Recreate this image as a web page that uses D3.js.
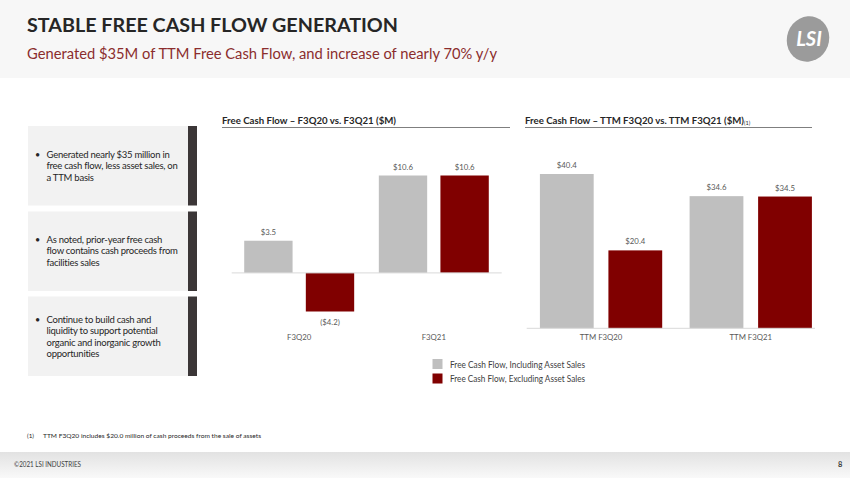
<!DOCTYPE html>
<html><head><meta charset="utf-8">
<script src="https://cdn.jsdelivr.net/npm/d3@7"></script>
<style>
html,body{margin:0;padding:0;background:#fff;}
svg{display:block;font-family:Lato,"Open Sans",sans-serif;}
</style></head>
<body>
<svg id="c" width="850" height="478"></svg>
<script>
// ---- data ----
const categoriesQ = ["F3Q20", "F3Q21"];
const includingQ = [3.5, 10.6];
const excludingQ = [-4.2, 10.6];
const categoriesTTM = ["TTM F3Q20", "TTM F3Q21"];
const includingTTM = [40.4, 34.6];
const excludingTTM = [20.4, 34.5];
const seriesNames = ["Free Cash Flow, Including Asset Sales", "Free Cash Flow, Excluding Asset Sales"];
const seriesColors = ["#bfbfbf", "#800000"];
const bullets = [
  ["Generated nearly $35 million in", "free cash flow, less asset sales, on", "a TTM basis"],
  ["As noted, prior-year free cash", "flow contains cash proceeds from", "facilities sales"],
  ["Continue to build cash and", "liquidity to support potential", "organic and inorganic growth", "opportunities"]
];

const svg = d3.select("#c");
const defs = svg.append("defs");
const grad = defs.append("linearGradient").attr("id","fg").attr("x1",0).attr("y1",0).attr("x2",0).attr("y2",1);
grad.append("stop").attr("offset","0%").attr("stop-color","#e2e2e2");
grad.append("stop").attr("offset","100%").attr("stop-color","#f9f9f9");

// header
svg.append("rect").attr("x",0).attr("y",0).attr("width",850).attr("height",78).attr("fill","#f7f7f7");
svg.append("text").attr("x",27).attr("y",32).attr("font-size",19).attr("font-weight","bold")
  .attr("fill","#262626").attr("textLength",371).attr("lengthAdjust","spacingAndGlyphs")
  .text("STABLE FREE CASH FLOW GENERATION");
svg.append("text").attr("x",27).attr("y",59).attr("font-size",14.5)
  .attr("fill","#8b2d2d").attr("textLength",470).attr("lengthAdjust","spacingAndGlyphs")
  .text("Generated $35M of TTM Free Cash Flow, and increase of nearly 70% y/y");
// logo
const logo = svg.append("g").attr("transform","translate(808,39)");
logo.append("ellipse").attr("rx",21).attr("ry",23).attr("fill","#9b9b9b").attr("transform","rotate(20)");
logo.append("text").attr("x",1).attr("y",7).attr("text-anchor","middle").attr("font-size",20)
  .attr("font-weight","bold").attr("font-style","italic").attr("fill","#fff").text("LSI");

// left panel
const boxTops = [126, 211.5, 296.5];
boxTops.forEach((t,i)=>{
  svg.append("rect").attr("x",28).attr("y",t).attr("width",160).attr("height",79.5).attr("fill","#f2f2f2");
  svg.append("rect").attr("x",188).attr("y",t).attr("width",9).attr("height",79.5).attr("fill","#3b3637");
  const lines = bullets[i];
  const firstY = [157.5, 242.5, 322.5][i];
  svg.append("text").attr("x",35).attr("y",firstY).attr("font-size",9).attr("fill","#262626").text("•");
  lines.forEach((l,j)=>{
    svg.append("text").attr("x",46.5).attr("y",firstY + j*11.6).attr("font-size",9.5)
      .attr("fill","#262626").attr("letter-spacing",-0.25).text(l);
  });
});

const fmt = v => v < 0 ? "($" + Math.abs(v).toFixed(1) + ")" : "$" + v.toFixed(1);

function drawChart(opt){
  const g = svg.append("g");
  // title + underline
  const tt = g.append("text").attr("x",opt.titleX).attr("y",124).attr("font-size",9.5)
    .attr("font-weight","bold").attr("fill","#262626");
  tt.append("tspan").attr("textLength",opt.titleLen).attr("lengthAdjust","spacingAndGlyphs").text(opt.title);
  if (opt.sup) tt.append("tspan").attr("font-size",5.5).attr("font-weight","normal").attr("dy",1).text(opt.sup);
  g.append("line").attr("x1",opt.titleX).attr("x2",opt.lineEnd).attr("y1",127.5).attr("y2",127.5)
    .attr("stroke","#7f7f7f").attr("stroke-width",1);

  const x0 = d3.scaleBand().domain(opt.cats).range(opt.xRange).paddingInner(0).paddingOuter(0);
  const x1 = d3.scaleBand().domain([0,1]).range([0,x0.bandwidth()]).paddingInner(0.215).paddingOuter(0.2);
  const y = d3.scaleLinear().domain(opt.yDomain).range(opt.yRange);

  const data = [];
  opt.cats.forEach((c,i)=>{
    data.push({c, s:0, v:opt.inc[i]});
    data.push({c, s:1, v:opt.exc[i]});
  });
  g.selectAll("rect.bar").data(data).join("rect").attr("class","bar")
    .attr("x",d=>x0(d.c)+x1(d.s)).attr("width",x1.bandwidth())
    .attr("y",d=>y(Math.max(0,d.v))).attr("height",d=>Math.abs(y(d.v)-y(0)))
    .attr("fill",d=>seriesColors[d.s]);
  g.append("line").attr("x1",opt.baseX[0]).attr("x2",opt.baseX[1]).attr("y1",y(0)).attr("y2",y(0))
    .attr("stroke","#d9d9d9").attr("stroke-width",1);
  g.selectAll("text.val").data(data).join("text").attr("class","val")
    .attr("x",d=>x0(d.c)+x1(d.s)+x1.bandwidth()/2)
    .attr("y",d=>d.v>=0 ? y(d.v)-6 : y(d.v)+13)
    .attr("text-anchor","middle").attr("font-size",7.8).attr("fill","#595959").text(d=>fmt(d.v));
  const ax = g.append("g").attr("transform",`translate(0,${opt.axisY})`)
    .call(d3.axisBottom(x0).tickSize(0).tickPadding(0));
  ax.select(".domain").remove();
  ax.selectAll("text").attr("font-size",7.8).attr("fill","#595959").attr("font-family","Lato,'Open Sans',sans-serif");
}

drawChart({
  title:"Free Cash Flow \u2013 F3Q20 vs. F3Q21 ($M)", titleLen:174, titleX:222, lineEnd:510,
  cats:categoriesQ, inc:includingQ, exc:excludingQ,
  xRange:[231.9, 501.1], yDomain:[-4.2, 10.6], yRange:[311.5, 175.5],
  baseX:[231.7, 501.7], axisY:334
});
drawChart({
  title:"Free Cash Flow \u2013 TTM F3Q20 vs. TTM F3Q21 ($M)", titleLen:219, sup:"(1)", titleX:525, lineEnd:812,
  cats:categoriesTTM, inc:includingTTM, exc:excludingTTM,
  xRange:[526.2, 825.6], yDomain:[0, 40.4], yRange:[328.3, 174],
  baseX:[526.7, 815], axisY:334.5
});

// legend
const lg = svg.append("g");
seriesNames.forEach((n,i)=>{
  lg.append("rect").attr("x",432.5).attr("y",359+i*14.5).attr("width",10).attr("height",10).attr("fill",seriesColors[i]);
  lg.append("text").attr("x",450).attr("y",367.5+i*14.5).attr("font-size",8.5).attr("fill","#404040")
    .attr("textLength",135).attr("lengthAdjust","spacingAndGlyphs").text(n);
});

// footnote
svg.append("text").attr("x",27).attr("y",437.5).attr("font-size",6.3).attr("fill","#262626").text("(1)");
svg.append("text").attr("x",43).attr("y",437.5).attr("font-size",6.3).attr("fill","#262626")
  .attr("textLength",218).attr("lengthAdjust","spacingAndGlyphs")
  .text("TTM F3Q20 includes $20.0 million of cash proceeds from the sale of assets");

// footer
svg.append("rect").attr("x",0).attr("y",452).attr("width",850).attr("height",26).attr("fill","url(#fg)");
svg.append("text").attr("x",14).attr("y",466.5).attr("font-size",7).attr("fill","#404040")
  .attr("textLength",67).attr("lengthAdjust","spacingAndGlyphs").text("\u00A92021 LSI INDUSTRIES");
svg.append("text").attr("x",838).attr("y",466.5).attr("font-size",7.5).attr("font-weight","bold").attr("fill","#404040").text("8");
</script>
</body></html>
